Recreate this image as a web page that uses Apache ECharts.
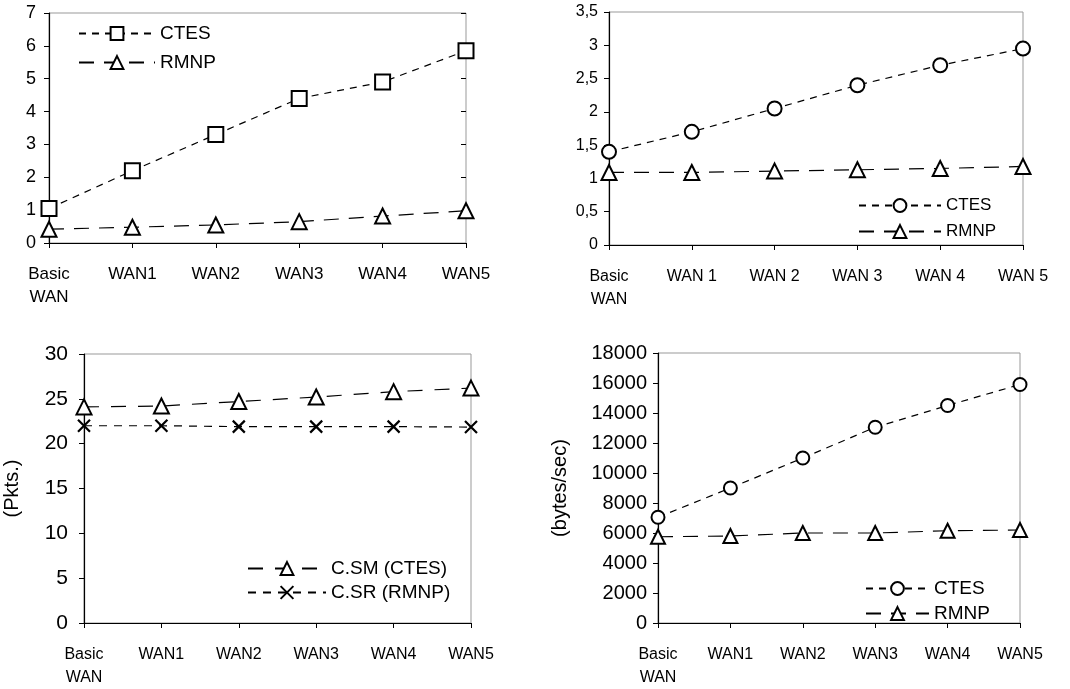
<!DOCTYPE html>
<html>
<head>
<meta charset="utf-8">
<script src="https://cdn.jsdelivr.net/npm/echarts@6/dist/echarts.min.js"></script>
<style>
  html, body { margin: 0; padding: 0; background: #fff; }
  #chart { width: 1070px; height: 689px; }
</style>
</head>
<body>
<div id="chart"></div>
<script>
// categories
const catsA = ['Basic\nWAN', 'WAN1', 'WAN2', 'WAN3', 'WAN4', 'WAN5']
const catsB = ['Basic\nWAN', 'WAN 1', 'WAN 2', 'WAN 3', 'WAN 4', 'WAN 5']

// panel 1 (top left)
const p1Ctes = [1.05, 2.2, 3.3, 4.4, 4.9, 5.85]
const p1Rmnp = [0.42, 0.48, 0.55, 0.65, 0.82, 0.98]
// panel 2 (top right)
const p2Ctes = [1.4, 1.7, 2.05, 2.4, 2.7, 2.95]
const p2Rmnp = [1.09, 1.09, 1.11, 1.13, 1.15, 1.18]
// panel 3 (bottom left, Pkts.)
const p3Csm = [24.1, 24.2, 24.7, 25.2, 25.8, 26.2]
const p3Csr = [22, 22, 21.9, 21.9, 21.9, 21.85]
// panel 4 (bottom right, bytes/sec)
const p4Ctes = [7050, 9000, 11000, 13050, 14500, 15900]
const p4Rmnp = [5750, 5800, 6000, 6000, 6150, 6200]

const FONT = 'Liberation Sans, Arial, sans-serif'
const INK = '#000'
const crossPath = 'path://M0,0L10,10M10,0L0,10'

const chart = echarts.init(document.getElementById('chart'), null, { renderer: 'canvas' })

function catAxis(gridIndex, data, fontSize) {
  return {
    type: 'category', gridIndex, data, boundaryGap: false,
    axisLine: { lineStyle: { color: INK, width: 1.2 } },
    axisTick: { show: true, alignWithLabel: true, length: 5, lineStyle: { color: INK } },
    axisLabel: { color: INK, fontFamily: FONT, fontSize, margin: 20, lineHeight: 23, interval: 0 },
    splitLine: { show: false },
  }
}

function valAxis(gridIndex, max, interval, fontSize, margin, fmt) {
  return {
    type: 'value', gridIndex, min: 0, max, interval,
    axisLine: { show: true, lineStyle: { color: INK, width: 1.2 } },
    axisTick: { show: true, length: 5, lineStyle: { color: INK } },
    axisLabel: { color: INK, fontFamily: FONT, fontSize, margin, formatter: fmt || (v => String(v)) },
    splitLine: { show: false },
  }
}

function line(name, xi, data, symbol, size, dash) {
  return {
    name, type: 'line', xAxisIndex: xi, yAxisIndex: xi, data,
    symbol, symbolSize: size, showSymbol: true,
    lineStyle: { color: INK, width: 1.2, type: dash },
    itemStyle: { color: INK, borderColor: INK, borderWidth: 2.6 },
    z: 3,
  }
}

function legend(left, top, names, itemWidth, gap, fontSize) {
  return {
    left, top, orient: 'vertical', data: names, padding: 0,
    itemWidth, itemHeight: 16, itemGap: gap,
    textStyle: { color: INK, fontFamily: FONT, fontSize },
    selectedMode: false,
  }
}

const gridStyle = { show: true, borderColor: '#999', borderWidth: 1, backgroundColor: 'transparent' }

const option = {
  backgroundColor: '#fff',
  animation: false,
  grid: [
    { left: 49, top: 13, width: 417, height: 230, ...gridStyle },
    { left: 609, top: 12, width: 414, height: 233, ...gridStyle },
    { left: 84, top: 354, width: 387, height: 274, ...gridStyle },
    { left: 658, top: 353, width: 362, height: 277, ...gridStyle },
  ],
  xAxis: [
    catAxis(0, catsA, 17),
    catAxis(1, catsB, 16),
    catAxis(2, catsA, 16),
    catAxis(3, catsA, 16),
    // inner half of the crossing ticks on panel 1
    { ...catAxis(0, catsA, 17), axisLine: { show: false }, axisLabel: { show: false },
      axisTick: { show: true, inside: true, alignWithLabel: true, length: 5, lineStyle: { color: INK } } },
  ],
  yAxis: [
    valAxis(0, 7, 1, 18, 13),
    valAxis(1, 3.5, 0.5, 16, 11, v => String(v).replace('.', ',')),
    valAxis(2, 30, 5, 21, 16),
    valAxis(3, 18000, 2000, 20, 11),
    { ...valAxis(0, 7, 1, 18, 13), axisLine: { show: false }, axisLabel: { show: false },
      axisTick: { show: true, inside: true, length: 5, lineStyle: { color: INK } } },
  ],
  legend: [
    legend(78, 24, ['CTES', 'RMNP'], 76, 10, 19),
    legend(858, 197, ['CTES ', 'RMNP '], 82, 9, 17),
    legend(247, 559, ['C.SM (CTES)', 'C.SR (RMNP)'], 78, 5, 19),
    legend(865, 579, ['CTES  ', 'RMNP  '], 63, 6, 19),
  ],
  series: [
    line('CTES', 0, p1Ctes, 'emptyRect', 15, [7, 6]),
    line('RMNP', 0, p1Rmnp, 'emptyTriangle', 15, [15, 10]),
    line('CTES ', 1, p2Ctes, 'emptyCircle', 14, [7, 6]),
    line('RMNP ', 1, p2Rmnp, 'emptyTriangle', 15, [15, 10]),
    line('C.SM (CTES)', 2, p3Csm, 'emptyTriangle', 15, [15, 12]),
    { ...line('C.SR (RMNP)', 2, p3Csr, crossPath, 12, [8, 7]),
      itemStyle: { color: 'none', borderColor: INK, borderWidth: 2.2 } },
    line('CTES  ', 3, p4Ctes, 'emptyCircle', 13, [7, 6]),
    line('RMNP  ', 3, p4Rmnp, 'emptyTriangle', 14, [15, 10]),
  ],
}

// axis titles for the bottom panels
option.yAxis[2].name = '(Pkts.)'
option.yAxis[2].nameLocation = 'middle'
option.yAxis[2].nameGap = 62
option.yAxis[2].nameTextStyle = { color: INK, fontFamily: FONT, fontSize: 20 }
option.yAxis[3].name = '(bytes/sec)'
option.yAxis[3].nameLocation = 'middle'
option.yAxis[3].nameGap = 88
option.yAxis[3].nameTextStyle = { color: INK, fontFamily: FONT, fontSize: 20 }

chart.setOption(option)
</script>
</body>
</html>
